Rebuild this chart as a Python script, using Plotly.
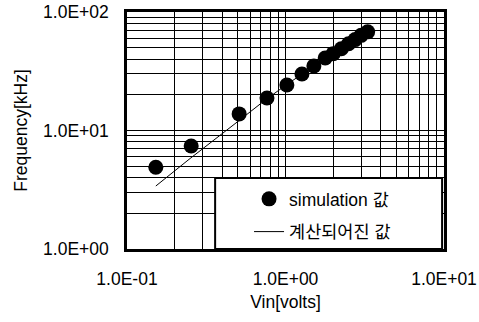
import plotly.graph_objects as go

# Data
sim_vin = [0.152, 0.254, 0.51, 0.764, 1.02, 1.27, 1.51, 1.78, 2.0, 2.25, 2.5, 2.75, 3.0, 3.3]
sim_freq = [4.9, 7.4, 13.8, 18.8, 24.2, 30.0, 35.0, 40.9, 44.5, 49.0, 54.0, 58.5, 63.5, 68.0]
calc_vin = [0.152, 0.25, 0.5, 0.75, 1.0, 1.5, 2.0, 2.5, 3.0, 3.3]
calc_freq = [3.4, 5.8, 11.9, 18.2, 24.0, 34.8, 44.5, 54.0, 63.5, 68.0]

x_tickvals = [0.1, 1, 10]
x_ticktext = ["1.0E-01", "1.0E+00", "1.0E+01"]
y_tickvals = [1, 10, 100]
y_ticktext = ["1.0E+00", "1.0E+01", "1.0E+02"]
x_minor = [m * d for d in (0.1, 1) for m in range(2, 10)]
y_minor = [m * d for d in (1, 10) for m in range(2, 10)]

FONT = "Liberation Sans, Arial, Noto Sans CJK KR, sans-serif"
FS = 17.5

fig = go.Figure()
fig.add_trace(go.Scatter(
    x=sim_vin, y=sim_freq, mode="markers", name="simulation 값",
    marker=dict(color="black", size=15), legendgroup="a",
))
fig.add_trace(go.Scatter(
    x=calc_vin, y=calc_freq, mode="lines", name="계산되어진 값",
    line=dict(color="black", width=1), legendgroup="b",
))

# legend box
fig.add_shape(type="rect", xref="paper", yref="paper",
              x0=0.278, x1=0.994, y0=0.0, y1=0.30,
              fillcolor="white", line=dict(color="black", width=2), layer="above")

axis_common = dict(
    type="log", showline=True, linecolor="black", linewidth=2.5, mirror=True,
    showgrid=True, gridcolor="black", gridwidth=1.4, zeroline=False,
    ticks="", automargin=False,
    tickfont=dict(family=FONT, size=FS, color="black"),
)

fig.update_xaxes(
    **axis_common, range=[-1, 1], tickvals=x_tickvals, ticktext=x_ticktext,
    minor=dict(tickvals=x_minor, showgrid=True, gridcolor="black", gridwidth=1.1, ticks=""),
    ticklabelstandoff=12,
    title=dict(text="Vin[volts]", font=dict(family=FONT, size=FS, color="black"), standoff=8),
)
fig.update_yaxes(
    **axis_common, range=[0, 2], tickvals=y_tickvals, ticktext=y_ticktext,
    minor=dict(tickvals=y_minor, showgrid=True, gridcolor="black", gridwidth=1.1, ticks=""),
    ticklabelstandoff=12,
    title=dict(text="Frequency[kHz]", font=dict(family=FONT, size=FS, color="black"), standoff=11),
)

fig.update_layout(
    width=479, height=322,
    margin=dict(l=127, r=35, t=12, b=73),
    paper_bgcolor="white", plot_bgcolor="white",
    font=dict(family=FONT, color="black"),
    showlegend=True,
    legend=dict(
        x=0.385, y=0.287, xanchor="left", yanchor="top",
        bgcolor="rgba(0,0,0,0)", borderwidth=0,
        font=dict(family=FONT, size=FS, color="black"),
        traceorder="grouped", tracegroupgap=7,
    ),
)

fig.write_html("out.html", config={"displayModeBar": False},
               post_script="document.body.style.margin='0px';")
